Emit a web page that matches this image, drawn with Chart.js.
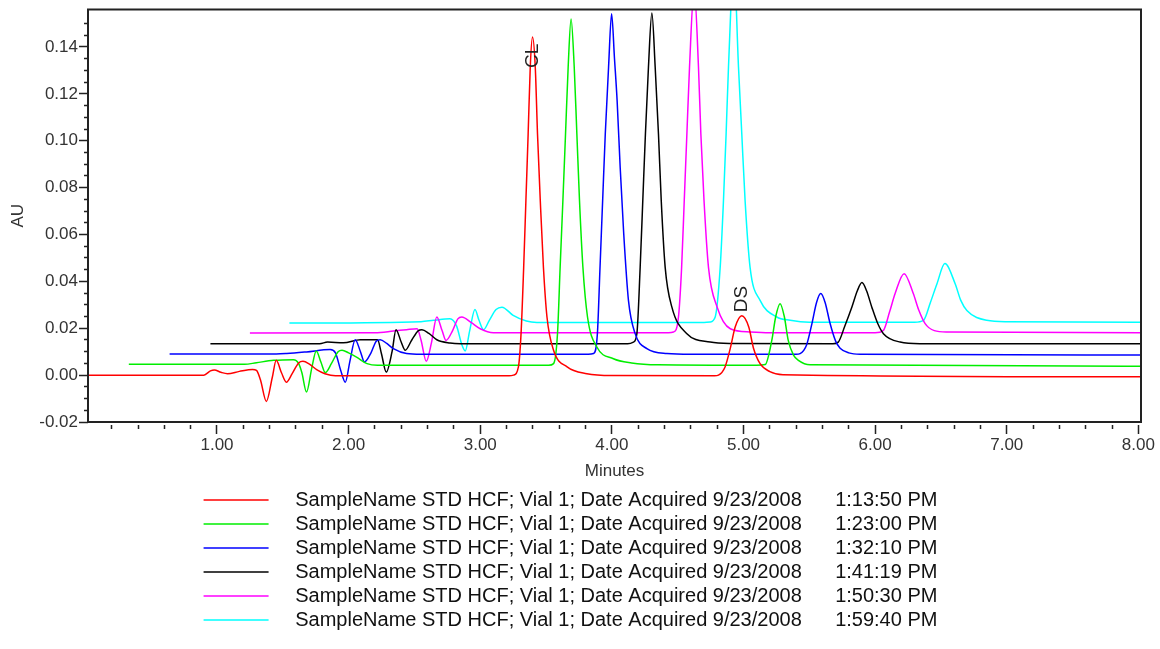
<!DOCTYPE html>
<html>
<head>
<meta charset="utf-8">
<script src="https://cdn.jsdelivr.net/npm/chart.js@4"></script>
<style>
  body { margin: 0; background: #fff; }
  #wrap { width: 1160px; height: 649px; }
</style>
</head>
<body>
<div id="wrap"><canvas id="myChart"></canvas></div>
<script>
// traces: [minutes, AU]
const redTrace = [[0.02,0.0000],[0.90,0.0000],[0.95,0.0018],[0.98,0.0022],[1.03,0.0012],[1.08,0.0006],[1.17,0.0016],[1.27,0.0024],[1.30,0.0020],[1.33,-0.0020],[1.375,-0.0112],[1.42,-0.0010],[1.45,0.0063],[1.49,0.0010],[1.527,-0.0030],[1.57,0.0005],[1.62,0.0052],[1.653,0.0059],[1.70,0.0048],[1.76,0.0022],[1.82,0.0006],[1.90,-0.0003],[3.22,-0.0003],[3.253,0.0000],[3.29,0.0035],[3.31,0.0177],[3.33,0.0460],[3.347,0.0746],[3.364,0.1030],[3.38,0.1315],[3.397,0.1443],[3.418,0.1315],[3.435,0.1030],[3.456,0.0746],[3.48,0.0460],[3.507,0.0248],[3.557,0.0106],[3.66,0.0035],[3.81,0.0006],[4.00,-0.0002],[4.78,-0.0003],[4.81,0.0000],[4.86,0.0035],[4.90,0.0115],[4.937,0.0205],[4.987,0.0253],[5.04,0.0205],[5.076,0.0115],[5.126,0.0049],[5.20,0.0015],[5.30,0.0002],[8.02,-0.0007]];
const greenTrace = [[0.33,0.0046],[1.21,0.0046],[1.30,0.0053],[1.43,0.0063],[1.58,0.0066],[1.62,0.0050],[1.645,0.0010],[1.68,-0.0072],[1.72,0.0030],[1.754,0.0103],[1.79,0.0055],[1.823,0.0011],[1.87,0.0050],[1.92,0.0100],[1.95,0.0106],[2.00,0.0095],[2.06,0.0077],[2.14,0.0049],[2.22,0.0042],[3.52,0.0042],[3.557,0.0049],[3.587,0.0177],[3.607,0.0460],[3.628,0.0746],[3.648,0.1030],[3.668,0.1315],[3.69,0.1520],[3.714,0.1315],[3.734,0.1030],[3.754,0.0746],[3.78,0.0460],[3.815,0.0248],[3.886,0.0120],[4.012,0.0070],[4.15,0.0052],[4.35,0.0044],[5.10,0.0042],[5.165,0.0045],[5.215,0.0148],[5.245,0.0250],[5.278,0.0305],[5.31,0.0250],[5.34,0.0148],[5.38,0.0085],[5.417,0.0063],[5.506,0.0044],[8.02,0.0038]];
const blueTrace = [[0.64,0.0090],[1.45,0.0090],[1.53,0.0092],[1.68,0.0099],[1.86,0.0109],[1.90,0.0095],[1.94,0.0020],[1.975,-0.0030],[2.01,0.0060],[2.05,0.0151],[2.09,0.0100],[2.12,0.0056],[2.17,0.0095],[2.21,0.0145],[2.24,0.0151],[2.29,0.0135],[2.34,0.0113],[2.44,0.0092],[2.55,0.0089],[3.82,0.0089],[3.86,0.0092],[3.89,0.0177],[3.91,0.0460],[3.93,0.0746],[3.95,0.1030],[3.975,0.1315],[3.998,0.1542],[4.02,0.1350],[4.04,0.1170],[4.063,0.0888],[4.09,0.0604],[4.126,0.0319],[4.177,0.0177],[4.266,0.0113],[4.418,0.0092],[4.60,0.0089],[5.40,0.0089],[5.43,0.0092],[5.48,0.0130],[5.52,0.0220],[5.555,0.0310],[5.587,0.0348],[5.62,0.0310],[5.658,0.0220],[5.70,0.0145],[5.734,0.0115],[5.80,0.0095],[5.886,0.0089],[8.02,0.0086]];
const blackTrace = [[0.95,0.0134],[1.78,0.0134],[1.84,0.0141],[1.96,0.0138],[2.09,0.0151],[2.22,0.0151],[2.25,0.0090],[2.286,0.0013],[2.33,0.0100],[2.36,0.0194],[2.40,0.0140],[2.43,0.0106],[2.48,0.0150],[2.53,0.0190],[2.557,0.0194],[2.61,0.0178],[2.67,0.0151],[2.77,0.0137],[2.85,0.0134],[4.12,0.0134],[4.164,0.0141],[4.19,0.0177],[4.215,0.0460],[4.235,0.0746],[4.255,0.1030],[4.278,0.1315],[4.304,0.1545],[4.329,0.1315],[4.354,0.1030],[4.375,0.0746],[4.405,0.0460],[4.456,0.0290],[4.57,0.0177],[4.747,0.0141],[4.90,0.0135],[5.68,0.0134],[5.72,0.0141],[5.77,0.0210],[5.823,0.0290],[5.865,0.0360],[5.90,0.0395],[5.935,0.0360],[5.975,0.0290],[6.02,0.0220],[6.063,0.0177],[6.19,0.0141],[6.34,0.0134],[8.02,0.0134]];
const magentaTrace = [[1.25,0.0180],[2.20,0.0181],[2.34,0.0188],[2.44,0.0194],[2.52,0.0198],[2.55,0.0150],[2.59,0.0059],[2.63,0.0140],[2.67,0.0248],[2.71,0.0190],[2.74,0.0148],[2.79,0.0190],[2.83,0.0240],[2.86,0.0248],[2.93,0.0225],[3.00,0.0198],[3.10,0.0181],[4.43,0.0181],[4.468,0.0184],[4.506,0.0248],[4.53,0.0460],[4.55,0.0746],[4.57,0.1030],[4.59,0.1315],[4.625,0.1650],[4.658,0.1315],[4.676,0.1030],[4.70,0.0746],[4.734,0.0460],[4.80,0.0290],[4.90,0.0198],[5.05,0.0184],[5.20,0.0181],[6.00,0.0181],[6.063,0.0191],[6.11,0.0270],[6.152,0.0348],[6.22,0.0433],[6.29,0.0348],[6.33,0.0280],[6.38,0.0220],[6.45,0.0190],[6.545,0.0184],[8.02,0.0181]];
const cyanTrace = [[1.55,0.0222],[2.55,0.0228],[2.645,0.0234],[2.77,0.0241],[2.82,0.0210],[2.86,0.0130],[2.886,0.0103],[2.92,0.0190],[2.96,0.0280],[2.99,0.0235],[3.025,0.0194],[3.07,0.0235],[3.12,0.0280],[3.165,0.0290],[3.25,0.0255],[3.35,0.0231],[3.43,0.0225],[4.70,0.0225],[4.747,0.0227],[4.785,0.0248],[4.823,0.0460],[4.848,0.0746],[4.868,0.1030],[4.886,0.1315],[4.927,0.1750],[4.962,0.1315],[4.987,0.1030],[5.012,0.0746],[5.05,0.0460],[5.126,0.0319],[5.253,0.0248],[5.355,0.0234],[5.50,0.0226],[6.30,0.0226],[6.368,0.0234],[6.42,0.0310],[6.47,0.0390],[6.53,0.0476],[6.608,0.0390],[6.65,0.0320],[6.697,0.0276],[6.848,0.0234],[7.00,0.0228],[8.02,0.0226]];

const sampleName = "SampleName STD HCF; Vial 1; Date Acquired 9/23/2008";
const acquiredTimes = ["1:13:50 PM","1:23:00 PM","1:32:10 PM","1:41:19 PM","1:50:30 PM","1:59:40 PM"];
const traceColors = ["#ff0000","#00ee00","#0000ff","#000000","#ff00ff","#00ffff"];
const traces = [redTrace, greenTrace, blueTrace, blackTrace, magentaTrace, cyanTrace];

// x ticks every 0.2 min, labels on whole minutes
const xTickValues = [0.2,0.4,0.6,0.8,1,1.2,1.4,1.6,1.8,2,2.2,2.4,2.6,2.8,3,3.2,3.4,3.6,3.8,4,4.2,4.4,4.6,4.8,5,5.2,5.4,5.6,5.8,6,6.2,6.4,6.6,6.8,7,7.2,7.4,7.6,7.8,8];
const xTickLabels = {1:"1.00",2:"2.00",3:"3.00",4:"4.00",5:"5.00",6:"6.00",7:"7.00",8:"8.00"};

const peakLabels = ["CL","DS"];
const peakLabelX = [3.40, 4.986];
const peakLabelY = [0.131, 0.0268];

const fontFam = "'Liberation Sans', Arial, sans-serif";

let isMult=(v,step)=>Math.abs(v/step-Math.round(v/step))<1e-6;

// frame round the plot + the rotated peak names
const extras = {
    id: 'extras',
    afterDatasetsDraw(chart){
        const {ctx, chartArea: a, scales} = chart;
        ctx.save();
        ctx.strokeStyle = '#222';
        ctx.lineWidth = 2;
        ctx.strokeRect(a.left, a.top, a.right-a.left, a.bottom-a.top);
        ctx.fillStyle = '#222';
        ctx.font = "19px " + fontFam;
        ctx.textAlign = 'left';
        ctx.textBaseline = 'middle';
        peakLabels.forEach((lab,i)=>{
            ctx.save();
            ctx.translate(scales.x.getPixelForValue(peakLabelX[i]), scales.y.getPixelForValue(peakLabelY[i]));
            ctx.rotate(-Math.PI/2);
            ctx.fillText(lab, 0, 0);
            ctx.restore();
        });
        ctx.restore();
    }
};

const ctx = document.getElementById('myChart').getContext('2d');
const myChart = new Chart(ctx, {
    type: 'line',
    data: {
        datasets: traces.map((tr,i)=>({
            label: "   " + sampleName + "      " + acquiredTimes[i],
            data: tr.map(p=>({x:p[0], y:p[1]})),
            borderColor: traceColors[i],
            backgroundColor: traceColors[i],
            borderWidth: 1.5,
            pointRadius: 0,
            fill: false,
            cubicInterpolationMode: 'monotone'
        }))
    },
    options: {
        responsive: true,
        maintainAspectRatio: false,
        animation: false,
        layout: { padding: { top: 9, right: 19, bottom: 9, left: 0 } },
        plugins: {
            tooltip: { enabled: false },
            legend: {
                position: 'bottom',
                labels: {
                    color: '#111',
                    font: { family: fontFam, size: 20 },
                    usePointStyle: true,
                    pointStyle: 'line',
                    pointStyleWidth: 65,
                    padding: 4
                }
            }
        },
        scales: {
            x: {
                type: 'linear',
                min: 0.02,
                max: 8.02,
                afterFit: (s)=>{ s.height = 64; },
                afterBuildTicks: (s)=>{ s.ticks = xTickValues.map(v=>({value: v})); },
                border: { display: false },
                grid: {
                    drawOnChartArea: false,
                    drawTicks: true,
                    tickLength: 12,
                    tickColor: '#222',
                    tickWidth: 1.5,
                    tickBorderDash: (c)=> (c.tick && isMult(c.tick.value,1)) ? [0,3,9,30] : [0,3,4,30]
                },
                ticks: {
                    autoSkip: false,
                    maxRotation: 0,
                    padding: 1,
                    color: '#333',
                    font: { family: fontFam, size: 17 },
                    callback: (v)=> xTickLabels[Math.round(v*1000)/1000] || ''
                },
                title: {
                    display: true,
                    text: 'Minutes',
                    color: '#333',
                    font: { family: fontFam, size: 17 },
                    padding: { top: 0, bottom: 4 }
                }
            },
            y: {
                min: -0.02,
                max: 0.156,
                afterFit: (s)=>{ s.width = 88; },
                afterBuildTicks: (s)=>{ s.ticks = s.ticks.filter(t=>isMult(t.value,0.005)); },
                border: { display: false },
                grid: {
                    drawOnChartArea: false,
                    drawTicks: true,
                    tickLength: 9,
                    tickColor: '#222',
                    tickWidth: 1.5,
                    tickBorderDash: (c)=> (c.tick && isMult(c.tick.value,0.02)) ? [] : [0,5,4,30]
                },
                ticks: {
                    stepSize: 0.005,
                    maxTicksLimit: 100,
                    autoSkip: false,
                    padding: 1,
                    color: '#333',
                    font: { family: fontFam, size: 17, lineHeight: 1 },
                    callback: (v)=> isMult(v,0.02) ? v.toFixed(2) : ''
                },
                title: {
                    display: true,
                    text: 'AU',
                    color: '#333',
                    font: { family: fontFam, size: 17 },
                    padding: { top: 8, bottom: 0 }
                }
            }
        }
    },
    plugins: [extras]
});
</script>
</body>
</html>
